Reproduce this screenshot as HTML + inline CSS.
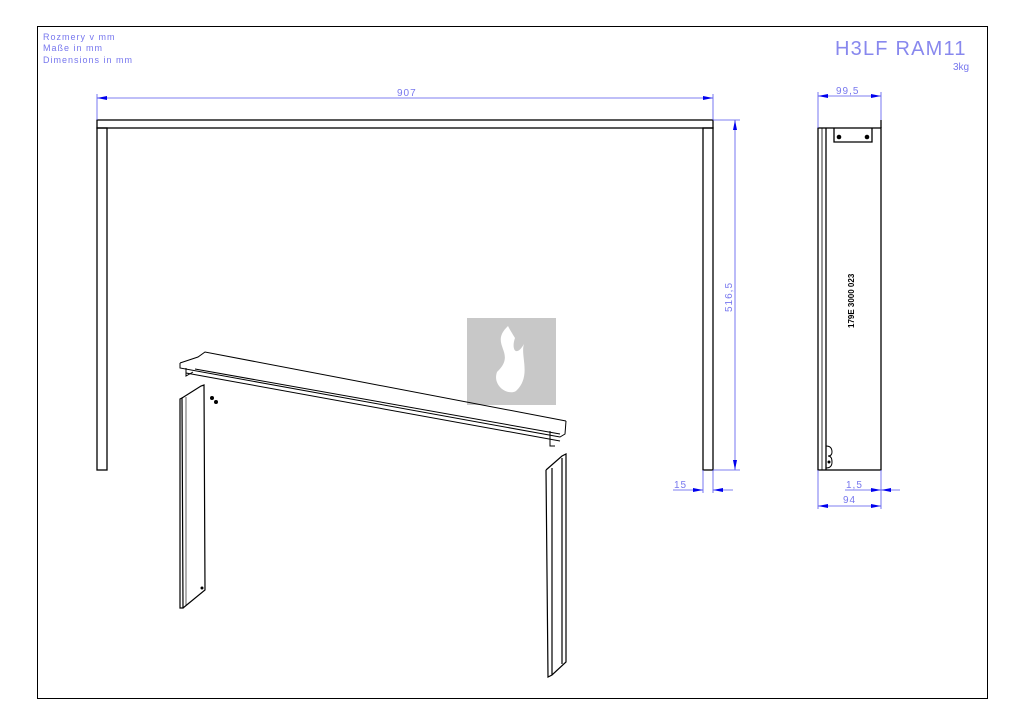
<!DOCTYPE html>
<html><head><meta charset="utf-8"><style>
body{margin:0;background:#fff;}
svg{display:block;}
text{font-family:"Liberation Sans",sans-serif;}
</style></head><body>
<svg width="1024" height="724" viewBox="0 0 1024 724" xmlns="http://www.w3.org/2000/svg">
<defs>
<marker id="a" viewBox="0 0 10 4" refX="10" refY="2" markerWidth="10" markerHeight="4" orient="auto-start-reverse" markerUnits="userSpaceOnUse"><path d="M0,0 L10,2 L0,4 Z" fill="#0000ee"/></marker>
</defs>
<rect x="37.5" y="26.5" width="950" height="672" fill="none" stroke="#000" stroke-width="1"/>
<g fill="#7777ee" font-size="9" letter-spacing="1">
<text x="43" y="40">Rozmery v mm</text>
<text x="43" y="51">Maße in mm</text>
<text x="43" y="63">Dimensions in mm</text>
</g>
<text x="835" y="55" fill="#8888ee" font-size="20" letter-spacing="1.2">H3LF RAM11</text>
<text x="953" y="70" fill="#7777ee" font-size="10">3kg</text>

<!-- front view -->
<g fill="none" stroke="#000" stroke-width="1.3">
<rect x="97" y="120" width="616" height="8"/>
<rect x="97" y="128" width="10" height="342"/>
<rect x="703" y="128" width="10" height="342"/>
</g>
<g stroke="#5555ee" stroke-width="0.8" fill="none">
<line x1="97" y1="94" x2="97" y2="120"/><line x1="713" y1="94" x2="713" y2="120"/>
<line x1="97" y1="98" x2="713" y2="98" marker-start="url(#a)" marker-end="url(#a)"/>
<line x1="713" y1="120" x2="740" y2="120"/><line x1="713" y1="470" x2="740" y2="470"/>
<line x1="735" y1="120" x2="735" y2="470" marker-start="url(#a)" marker-end="url(#a)"/>
<line x1="703" y1="470" x2="703" y2="493"/><line x1="713" y1="470" x2="713" y2="493"/>
<line x1="673" y1="490" x2="703" y2="490" marker-end="url(#a)"/>
<line x1="733" y1="490" x2="713" y2="490" marker-end="url(#a)"/>
</g>
<g fill="#7777ee" font-size="10">
<text x="397" y="96" letter-spacing="1">907</text>
<text transform="translate(732,312) rotate(-90)" letter-spacing="1">516,5</text>
<text x="674" y="488" letter-spacing="1">15</text>
</g>

<!-- side view -->
<g fill="none" stroke="#000" stroke-width="1.3">
<rect x="818" y="128" width="63" height="342"/>
<line x1="881" y1="120" x2="881" y2="128"/>
<line x1="826" y1="128" x2="826" y2="470"/>
<line x1="822" y1="128" x2="822" y2="470" stroke-width="0.8"/>
<path d="M834,128 V142 H872 V128"/>
<path d="M826,446 q6,0 6,6 q0,4 -4,4 q4,0 4,6 q0,6 -6,6" stroke-width="1"/>
</g>
<circle cx="839" cy="137" r="2.3" fill="#000"/><circle cx="867" cy="137" r="2.3" fill="#000"/>
<circle cx="829" cy="462" r="1.5" fill="#000"/>
<text transform="translate(854,328) rotate(-90)" font-size="8" font-weight="bold">179E 3000 023</text>
<g stroke="#5555ee" stroke-width="0.8" fill="none">
<line x1="818" y1="92" x2="818" y2="128"/><line x1="881" y1="92" x2="881" y2="120"/>
<line x1="818" y1="96" x2="881" y2="96" marker-start="url(#a)" marker-end="url(#a)"/>
<line x1="818" y1="470" x2="818" y2="509"/><line x1="881" y1="470" x2="881" y2="509"/>
<line x1="845" y1="490" x2="881" y2="490" marker-end="url(#a)"/>
<line x1="900" y1="490" x2="881" y2="490" marker-end="url(#a)"/>
<line x1="818" y1="506" x2="881" y2="506" marker-start="url(#a)" marker-end="url(#a)"/>
</g>
<g fill="#7777ee" font-size="10">
<text x="836" y="94" letter-spacing="1">99,5</text>
<text x="846" y="488" letter-spacing="1">1,5</text>
<text x="843" y="503" letter-spacing="1">94</text>
</g>

<!-- logo -->
<rect x="467" y="318" width="89" height="87" fill="#c8c8c8"/>
<path d="M508,326 C488,345 518,352 497,372 C492,386 508,396 516,391 C532,376 520,356 524,344 C516,358 511,349 515,338 C512,333 510,330 508,326 Z" fill="#fff"/>

<!-- iso bar -->
<g fill="none" stroke="#000" stroke-width="1">
<path d="M180,363 L180,368 L560,437 L565,434 L566,421"/>
<path d="M180,363 L198,357 L205,352 L566,421"/>
<path d="M195,369 L560,434"/>
<path d="M186,373 L560,441"/>
<path d="M186,368 L186,376 L193,372"/>
<path d="M550,431 L550,446 L555,446"/>
</g>
<!-- left leg -->
<g fill="none" stroke="#000" stroke-width="1.2">
<path d="M180,399 L182,398 L183,608 L180,608 Z"/>
<path d="M182,398 L201,386 L204,385 L205,590 L183,608"/>
<line x1="186" y1="397" x2="186" y2="605" stroke-width="0.6"/>
</g>
<circle cx="212" cy="398" r="2" fill="#000"/><circle cx="216" cy="402" r="2" fill="#000"/><circle cx="202" cy="588" r="1.5" fill="#000"/>
<!-- right leg -->
<g fill="none" stroke="#000" stroke-width="1.2">
<path d="M546,470 L562,456 L566,454 L566,662 L552,675 L548,677 L546,470"/>
<line x1="552" y1="468" x2="552" y2="675"/>
<line x1="562" y1="458" x2="562" y2="664"/>
</g>
</svg>
</body></html>
